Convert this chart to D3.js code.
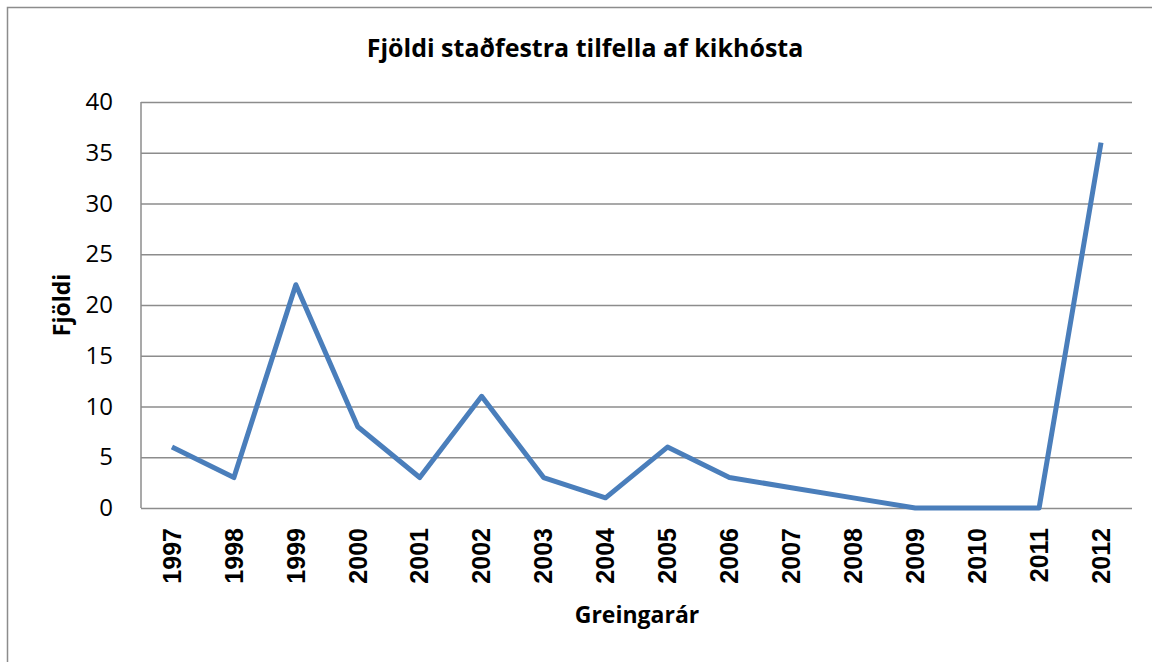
<!DOCTYPE html>
<html>
<head>
<meta charset="utf-8">
<script src="https://cdn.jsdelivr.net/npm/d3@7"></script>
<style>
  body { margin: 0; background: #fff; }
  .grid line { stroke: #8c8c8c; stroke-width: 1.5px; }
  .grid .domain { display: none; }
  .ylab text { font-family: "Open Sans", sans-serif; font-size: 24px; fill: #000; }
  .xlab text { font-family: "Liberation Sans", Arial, sans-serif; font-size: 25px; font-weight: bold; fill: #000; }
  .title { font-family: "Open Sans", sans-serif; font-size: 25px; font-weight: bold; }
  .axis-title { font-family: "Open Sans", sans-serif; font-size: 23px; font-weight: bold; }
</style>
</head>
<body>
<div id="chart"></div>
<script>
var years = ["1997", "1998", "1999", "2000", "2001", "2002", "2003", "2004",
    "2005", "2006", "2007", "2008", "2009", "2010", "2011", "2012"];
var cases = [6, 3, 22, 8, 3, 11, 3, 1, 6, 3, 2, 1, 0, 0, 0, 36];
var yTicks = [0, 5, 10, 15, 20, 25, 30, 35, 40];

var fullWidth = 1152, fullHeight = 662;
var margin = { top: 102, bottom: 154, left: 141, right: 20 };
var width = fullWidth - margin.left - margin.right;
var height = fullHeight - margin.top - margin.bottom;

var xScale = d3.scaleBand().domain(years).range([0, width]);
var yScale = d3.scaleLinear().domain([0, 40]).range([height, 0]);

var svg = d3.select("#chart").append("svg")
    .attr("width", fullWidth)
    .attr("height", fullHeight);

// outer frame (only top and left visible in the shot)
svg.append("rect")
    .attr("x", 7.5).attr("y", 7.5)
    .attr("width", 1200).attr("height", 700)
    .attr("fill", "none")
    .attr("stroke", "#8c8c8c")
    .attr("stroke-width", 1.5);

var g = svg.append("g")
    .attr("transform", "translate(" + margin.left + "," + margin.top + ")");

// horizontal gridlines
g.append("g")
    .attr("class", "grid")
    .call(d3.axisLeft(yScale).tickValues(yTicks).tickSize(-width).tickFormat(""));

// y axis line
g.append("line")
    .attr("x1", 0).attr("x2", 0)
    .attr("y1", 0).attr("y2", height)
    .attr("stroke", "#8c8c8c").attr("stroke-width", 1.5);

// y tick labels
g.append("g")
    .attr("class", "ylab")
    .call(d3.axisLeft(yScale).tickValues(yTicks).tickSize(0).tickPadding(28))
    .call(function (a) { a.select(".domain").remove(); });

// x tick labels, rotated
g.append("g")
    .attr("class", "xlab")
    .attr("transform", "translate(0," + height + ")")
    .call(d3.axisBottom(xScale).tickSize(0))
    .call(function (a) { a.select(".domain").remove(); })
    .selectAll("text")
    .attr("transform", "rotate(-90)")
    .attr("x", -20)
    .attr("y", 0)
    .attr("dy", "0.35em")
    .style("text-anchor", "end");

var line = d3.line()
    .x(function (d, i) { return xScale(years[i]) + xScale.bandwidth() / 2; })
    .y(function (d) { return yScale(d); });

g.append("path")
    .datum(cases)
    .attr("fill", "none")
    .attr("stroke", "#4a7ebb")
    .attr("stroke-width", 5)
    .attr("stroke-linejoin", "round")
    .attr("d", line);

svg.append("text")
    .attr("class", "title")
    .attr("x", 585).attr("y", 57)
    .style("text-anchor", "middle")
    .text("Fjöldi staðfestra tilfella af kikhósta");

svg.append("text")
    .attr("class", "axis-title")
    .attr("x", 637).attr("y", 623)
    .style("text-anchor", "middle")
    .text("Greingarár");

svg.append("text")
    .attr("class", "axis-title")
    .attr("transform", "translate(70,305) rotate(-90)")
    .style("text-anchor", "middle")
    .text("Fjöldi");
</script>
</body>
</html>
